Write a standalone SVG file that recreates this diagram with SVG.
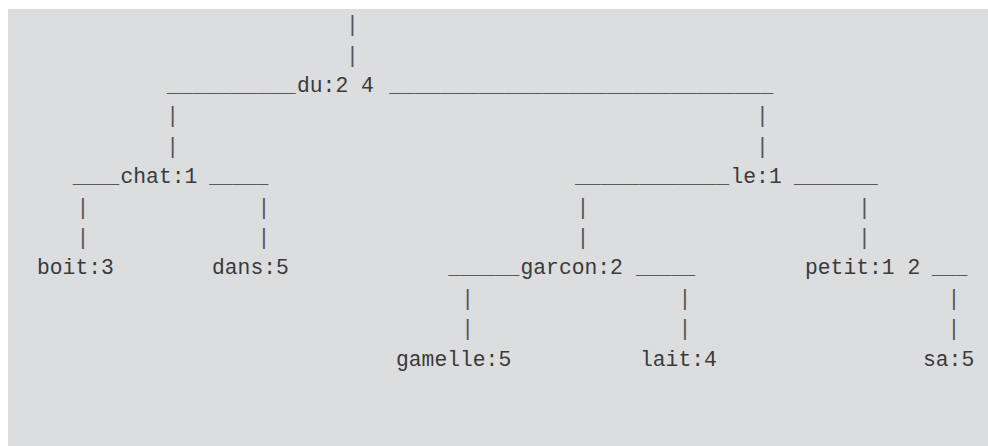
<svg xmlns="http://www.w3.org/2000/svg" width="988" height="446" viewBox="0 0 988 446">
<style>
  text { font-family: "Liberation Mono", "Courier New", monospace; font-size: 21.33px; fill: #3a3a3a; }
  .u { fill: #5a5a5a; }
  .p { fill: #555555; text-anchor: middle; }
</style>
<rect x="8" y="9" width="980" height="437" fill="#dcdddf"/>
<g id="connectors">
  <text class="p" x="352.3" y="31">|</text>
  <text class="p" x="352.3" y="61.5">|</text>
  <text class="u" x="166.7" y="92" textLength="129" lengthAdjust="spacingAndGlyphs">__________</text>
  <text class="u" x="389.3" y="92" textLength="384" lengthAdjust="spacingAndGlyphs">______________________________</text>
  <text class="p" x="172.7" y="122.4">|</text>
  <text class="p" x="172.7" y="152.8">|</text>
  <text class="p" x="762.3" y="122.4">|</text>
  <text class="p" x="762.3" y="152.8">|</text>
  <text class="u" x="72.7" y="183.2" textLength="46.5" lengthAdjust="spacingAndGlyphs">____</text>
  <text class="u" x="209.3" y="183.2" textLength="59" lengthAdjust="spacingAndGlyphs">_____</text>
  <text class="u" x="575" y="183.2" textLength="154" lengthAdjust="spacingAndGlyphs">____________</text>
  <text class="u" x="794" y="183.2" textLength="83.7" lengthAdjust="spacingAndGlyphs">_______</text>
  <text class="p" x="83" y="213.6">|</text>
  <text class="p" x="83" y="244">|</text>
  <text class="p" x="264" y="213.6">|</text>
  <text class="p" x="264" y="244">|</text>
  <text class="p" x="583" y="213.6">|</text>
  <text class="p" x="583" y="244">|</text>
  <text class="p" x="864.3" y="213.6">|</text>
  <text class="p" x="864.3" y="244">|</text>
  <text class="u" x="448.3" y="274.4" textLength="71" lengthAdjust="spacingAndGlyphs">______</text>
  <text class="u" x="636" y="274.4" textLength="59" lengthAdjust="spacingAndGlyphs">_____</text>
  <text class="u" x="931.7" y="274.4" textLength="35.6" lengthAdjust="spacingAndGlyphs">___</text>
  <text class="p" x="467.7" y="304.8">|</text>
  <text class="p" x="467.7" y="335.2">|</text>
  <text class="p" x="685" y="304.8">|</text>
  <text class="p" x="685" y="335.2">|</text>
  <text class="p" x="954" y="304.8">|</text>
  <text class="p" x="954" y="335.2">|</text>
</g>
<g id="node-du"><text x="297" y="92">du:2 4</text></g>
<g id="node-chat"><text x="120.5" y="183.2">chat:1</text></g>
<g id="node-le"><text x="730.5" y="183.2">le:1</text></g>
<g id="node-boit"><text x="37" y="274.4">boit:3</text></g>
<g id="node-dans"><text x="212" y="274.4">dans:5</text></g>
<g id="node-garcon"><text x="520.5" y="274.4">garcon:2</text></g>
<g id="node-petit"><text x="805" y="274.4">petit:1 2</text></g>
<g id="node-gamelle"><text x="396" y="365.6">gamelle:5</text></g>
<g id="node-lait"><text x="640" y="365.6">lait:4</text></g>
<g id="node-sa"><text x="923" y="365.6">sa:5</text></g>
</svg>
